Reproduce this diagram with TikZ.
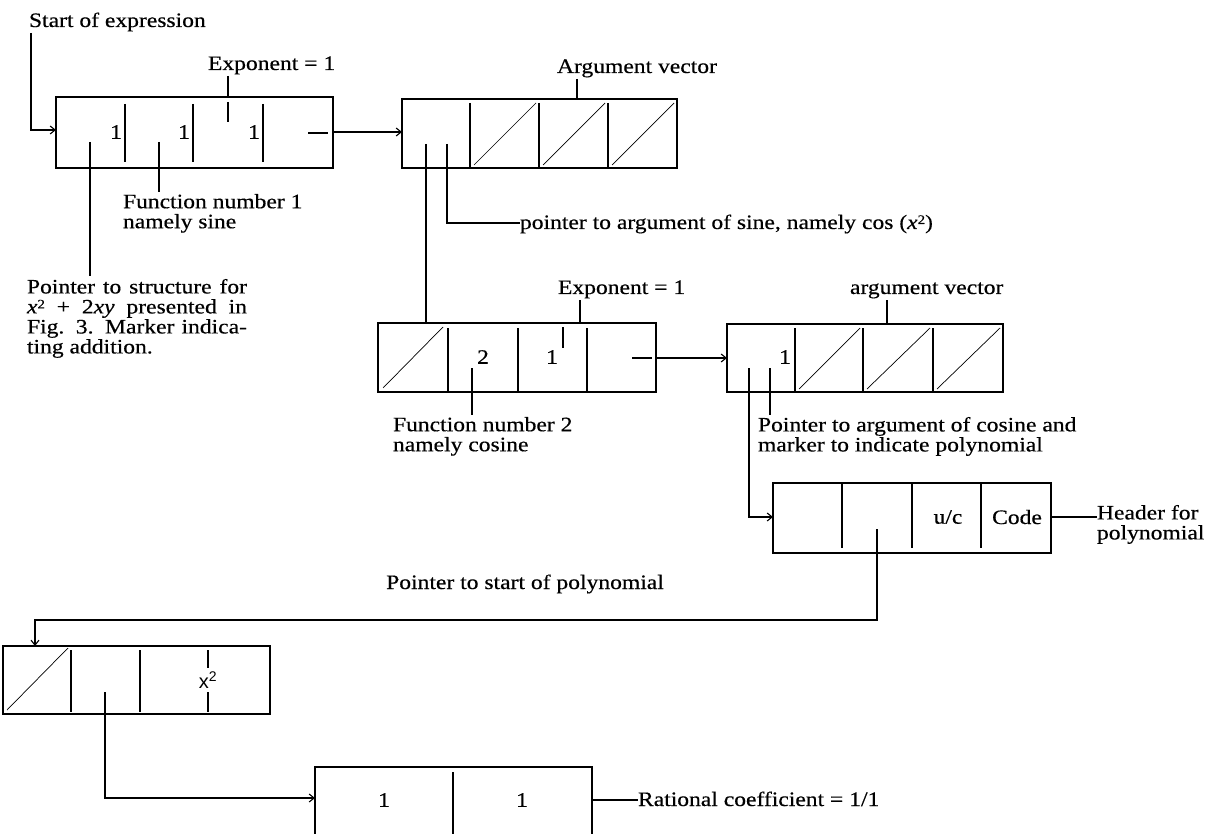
\documentclass[tikz,border=0pt]{standalone}
\usepackage{fontspec}
\setmainfont{Liberation Serif}[FakeStretch=1.15,FakeBold=0.4]
\newfontfamily\sansx{Liberation Sans}
\usetikzlibrary{arrows.meta}
\newcommand\lowsq{\raisebox{5pt}{\fontsize{13}{13}\selectfont 2}}
\begin{document}
\begin{tikzpicture}[x=1pt,y=-1pt,line width=1.1pt,
  every node/.style={inner sep=0pt,outer sep=0pt},
  box/.style={draw,rectangle,anchor=north west},
  lbl/.style={font=\fontsize{20.5}{20}\selectfont,anchor=base west,inner sep=0pt},
  par/.style={font=\fontsize{20.5}{20}\selectfont,anchor=north west,align=left,inner sep=0pt},
  val/.style={font=\fontsize{20.5}{20}\selectfont},
  diag/.style={line width=0.7pt},
  tip/.style={-{Straight Barb[length=5pt,width=8pt]}}]
\useasboundingbox (0,0) rectangle (1207,834);

% ---------- top row ----------
\node[lbl] (start) at (29,27) {Start of expression};
\node[box,minimum width=277pt,minimum height=71pt] (b1) at (56,97) {};
\coordinate (s0) at (31,33);
\draw[tip] (s0) |- (b1.west |- 0,130);
\foreach \x in {125,193,263} \draw (\x,104) -- (\x,162);
\foreach \x in {116,184,254} \node[val] at (\x,132) {1};
\draw (308,133) -- (328,133);
\draw (228,102) -- (228,122);
\node[lbl] (exp1) at (208,70) {Exponent = 1};
\draw ([yshift=-6pt]exp1.base -| 228,0) -- (b1.north -| 228,0);

\node[box,minimum width=275pt,minimum height=69pt] (b2) at (402,99) {};
\draw[tip] (b1.east |- 0,132) -- (b2.west |- 0,132);
\foreach \x in {470,539,608} \draw (\x,103) -- (\x,168);
\foreach \x/\y in {470/539,539/608,608/677} \draw[diag] (\x+4,165) -- (\y-3,103);
\draw (426,144) -- (426,168);
\draw (447,144) -- (447,168);
\node[lbl] (av1) at (557,73) {Argument vector};
\draw ([yshift=-6pt]av1.base -| 577,0) -- (b2.north -| 577,0);

% labels below box 1
\node[par] (fn1) at (123,194) {Function number 1\\namely sine};
\draw (159,142) -- ([yshift=2pt]fn1.north -| 159,0);

\node[par] (ps) at (27,279) {\makebox[220pt][s]{Pointer to structure for}\\
  \makebox[220pt][s]{\textit{x}\lowsq{} + 2\textit{xy} presented in}\\
  \makebox[220pt][s]{Fig. 3. Marker indica-}\\
  ting addition.};
\draw (90,142) -- ([yshift=3pt]ps.north -| 90,0);

% pointer to argument of sine
\node[lbl] (pas) at (520,229) {pointer to argument of sine, namely cos (\textit{x}\lowsq)};
\draw (447,168) |- ([yshift=6pt]pas.base west);

% ---------- second row ----------
\node[box,minimum width=278pt,minimum height=69pt] (b3) at (378,323) {};
\draw (426,168) -- (b3.north -| 426,0);
\foreach \x in {448,518,587} \draw (\x,328) -- (\x,392);
\draw[diag] (383,388) -- (443,327);
\node[val] at (483,357) {2};
\node[val] at (552,357) {1};
\draw (563,327) -- (563,348);
\draw (632,358) -- (652,358);
\node[lbl] (exp2) at (558,294) {Exponent = 1};
\draw ([yshift=-6pt]exp2.base -| 580,0) -- (b3.north -| 580,0);
\draw (472,368) -- (472,392);
\node[par] (fn2) at (393,417) {Function number 2\\namely cosine};
\draw (472,392) -- ([yshift=2pt]fn2.north -| 472,0);

\node[box,minimum width=276pt,minimum height=68pt] (b4) at (727,324) {};
\draw[tip] (b3.east |- 0,358) -- (b4.west |- 0,358);
\foreach \x in {795,863,933} \draw (\x,328) -- (\x,392);
\foreach \x/\y in {795/863,863/933,933/1003} \draw[diag] (\x+4,389) -- (\y-3,328);
\node[val] at (785,357) {1};
\draw (749,368) -- (749,392);
\draw (770,368) -- (770,392);
\node[lbl] (av2) at (850,294) {argument vector};
\draw ([yshift=-6pt]av2.base -| 887,0) -- (b4.north -| 887,0);
\node[par] (pac) at (758,417) {Pointer to argument of cosine and\\marker to indicate polynomial};
\draw (770,392) -- ([yshift=2pt]pac.north -| 770,0);

% ---------- header ----------
\node[box,minimum width=278pt,minimum height=70pt] (b5) at (773,483) {};
\draw[tip] (749,392) |- (b5.west |- 0,517);
\foreach \x in {842,912,981} \draw (\x,483) -- (\x,548);
\node[val] at (948,517) {u/c};
\node[val] at (1017,517) {Code};
\draw (877,529) -- (877,553);
\node[par] (hdr) at (1097,505) {Header for\\polynomial};
\coordinate (hl) at (1097,517);
\draw (b5.east |- hl) -- (hl);

\node[lbl,anchor=base] (psp) at (525,589) {Pointer to start of polynomial};

% ---------- bottom ----------
\node[box,minimum width=267pt,minimum height=68pt] (b6) at (3,646) {};
\draw[tip] (877,553) |- (35,620) -- (b6.north -| 35,0);
\foreach \x in {71,140} \draw (\x,650) -- (\x,712);
\draw[diag] (7,710) -- (68,648);
\node[font=\sansx\fontsize{20}{20}\selectfont] at (208,680) {x\textsuperscript{2}};
\draw (208,650) -- (208,668);
\draw (208,692) -- (208,712);
\draw (105,692) -- (105,714);

\node[box,minimum width=277pt,minimum height=70pt] (b7) at (315,767) {};
\draw[tip] (105,714) |- (b7.west |- 0,798);
\draw (453,772) -- (453,834);
\node[val] at (384,800) {1};
\node[val] at (522,800) {1};
\node[lbl] (rc) at (638,806) {Rational coefficient = 1/1};
\draw (b7.east |- 0,800) -- ([yshift=6pt]rc.base west);
\end{tikzpicture}
\end{document}
